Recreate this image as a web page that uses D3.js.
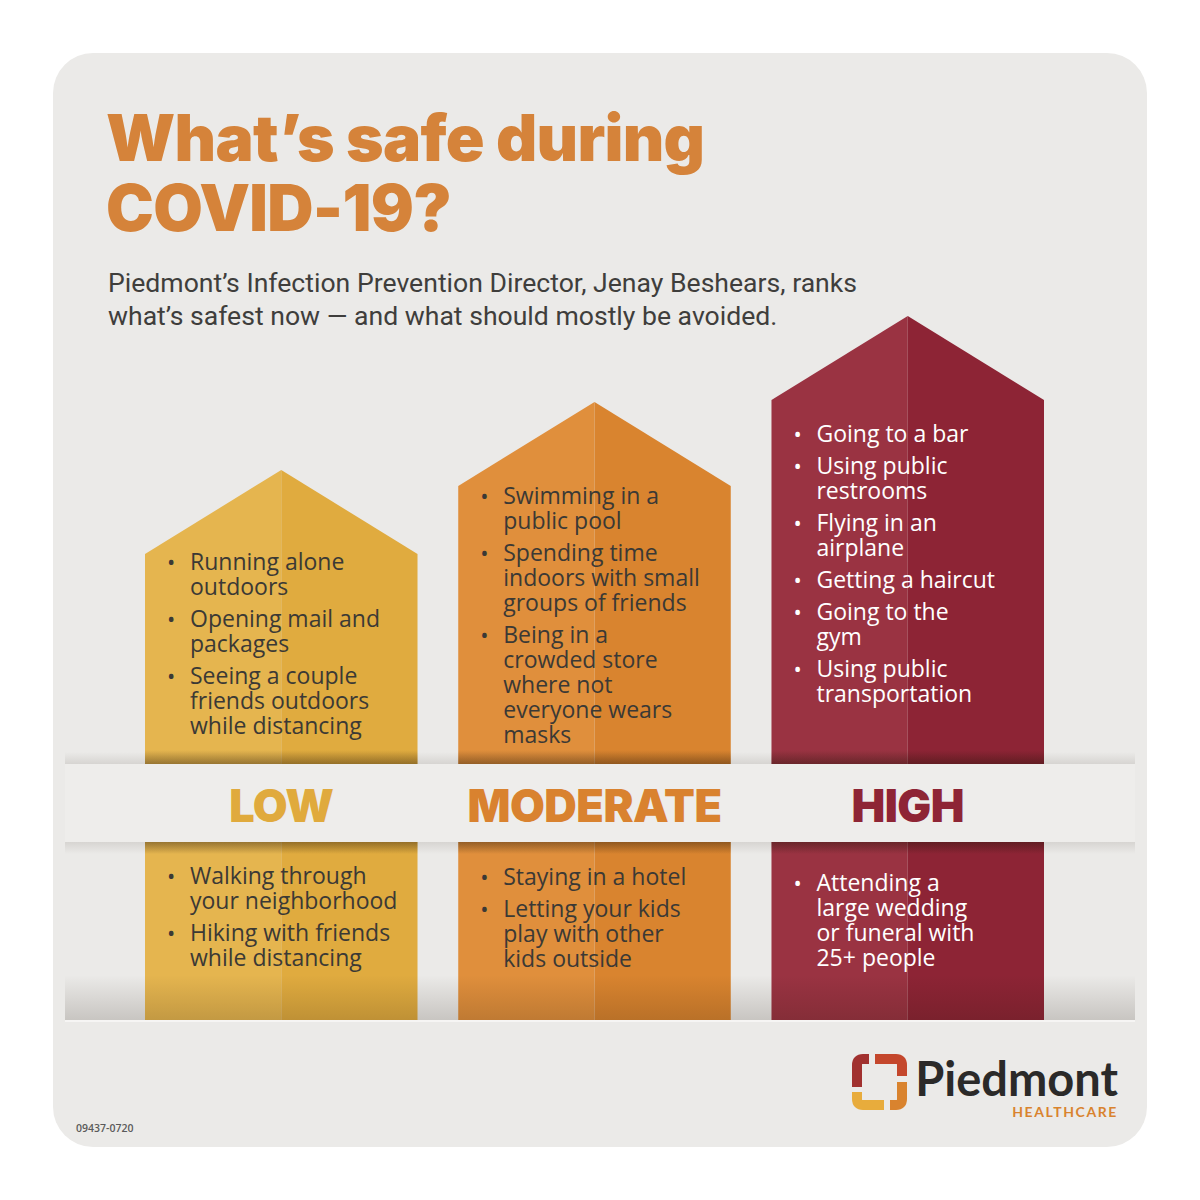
<!DOCTYPE html>
<html>
<head>
<meta charset="utf-8">
<script src="https://cdn.jsdelivr.net/npm/d3@7"></script>
<style>
  body { margin: 0; background: #ffffff; }
  #chart { width: 1200px; height: 1200px; }
</style>
</head>
<body>
<div id="chart"></div>
<script>
/* * * * * * * * * * * * * *
 *   What's safe - houses   *
 * * * * * * * * * * * * * */

// ---- data ----
const levels = ["LOW", "MODERATE", "HIGH"];

const titleLines = ["What\u2019s safe during", "COVID-19?"];
const subtitleLines = [
    "Piedmont\u2019s Infection Prevention Director, Jenay Beshears, ranks",
    "what\u2019s safest now \u2014 and what should mostly be avoided."
];

// activities above the band (one list of items per level, each item = its lines)
const topActivities = [
    [["Running alone", "outdoors"], ["Opening mail and", "packages"], ["Seeing a couple", "friends outdoors", "while distancing"]],
    [["Swimming in a", "public pool"], ["Spending time", "indoors with small", "groups of friends"], ["Being in a", "crowded store", "where not", "everyone wears", "masks"]],
    [["Going to a bar"], ["Using public", "restrooms"], ["Flying in an", "airplane"], ["Getting a haircut"], ["Going to the", "gym"], ["Using public", "transportation"]]
];

// activities below the band
const bottomActivities = [
    [["Walking through", "your neighborhood"], ["Hiking with friends", "while distancing"]],
    [["Staying in a hotel"], ["Letting your kids", "play with other", "kids outside"]],
    [["Attending a", "large wedding", "or funeral with", "25+ people"]]
];

const footCode = "09437-0720";

// ---- style / layout ----
const leftColors = ["#e5b54f", "#e08f3c", "#9a3342"];
const rightColors = ["#e0ab3f", "#d9842f", "#8d2435"];
const labelColors = ["#e0aa3d", "#d9822f", "#8e2535"];
const textColors = ["#3b3935", "#3b3935", "#ffffff"];

let width = 1200, height = 1200;

let svg = d3.select("#chart").append("svg")
    .attr("width", width)
    .attr("height", height);

let defs = svg.append("defs");

function vGrad(id, a0, a1) {
    let g = defs.append("linearGradient")
        .attr("id", id)
        .attr("x1", 0).attr("y1", 0).attr("x2", 0).attr("y2", 1);
    g.append("stop").attr("offset", "0%").attr("stop-color", "#1e1206").attr("stop-opacity", a0);
    g.append("stop").attr("offset", "100%").attr("stop-color", "#1e1206").attr("stop-opacity", a1);
}
vGrad("baseGrad", 0, 0.17);
vGrad("shadeAbove", 0, 0.32);
vGrad("shadeBelow", 0.32, 0);
vGrad("softAbove", 0, 0.10);
vGrad("softBelow", 0.10, 0);

// card
svg.append("rect")
    .attr("x", 53).attr("y", 53)
    .attr("width", 1094).attr("height", 1094)
    .attr("rx", 40)
    .attr("fill", "#ebeae8");

// title
svg.append("g").selectAll("text")
    .data(titleLines)
    .enter()
    .append("text")
    .attr("x", 106)
    .attr("y", (d, i) => 161 + i * 70)
    .style("font-family", "Inter")
    .style("font-weight", 900)
    .style("font-size", "64px")
    .style("letter-spacing", "-0.7px")
    .style("fill", "#d5833a")
    .text(d => d);

svg.append("g").selectAll("text")
    .data(subtitleLines)
    .enter()
    .append("text")
    .attr("x", 108)
    .attr("y", (d, i) => 292 + i * 33)
    .style("font-family", "Roboto")
    .style("font-size", "26.6px")
    .style("fill", "#3f3e3c")
    .text(d => d);

// scales
let x = d3.scaleBand()
    .domain(levels)
    .range([145, 1044])
    .paddingInner(0.13);

let peakY = d3.scaleOrdinal()
    .domain(levels)
    .range([470, 402, 316]);

const roofDrop = 84;
const houseBottom = 1020;
const bandTop = 764, bandBottom = 842;

// thin light line under the base
svg.append("rect")
    .attr("x", 65).attr("y", houseBottom)
    .attr("width", 1070).attr("height", 2)
    .attr("fill", "#f6f5f4");

let houses = svg.append("g").selectAll("g.house")
    .data(levels)
    .enter()
    .append("g")
    .attr("class", "house");

// left half
houses.append("path")
    .attr("d", d => {
        let x0 = x(d), xm = x(d) + x.bandwidth() / 2, p = peakY(d);
        return `M${x0},${houseBottom} V${p + roofDrop} L${xm},${p} V${houseBottom} Z`;
    })
    .attr("fill", (d, i) => leftColors[i]);

// right half
houses.append("path")
    .attr("d", d => {
        let x1 = x(d) + x.bandwidth(), xm = x(d) + x.bandwidth() / 2, p = peakY(d);
        return `M${xm},${houseBottom} V${p} L${x1},${p + roofDrop} V${houseBottom} Z`;
    })
    .attr("fill", (d, i) => rightColors[i]);

// bottom shading
svg.append("rect")
    .attr("x", 65).attr("y", 975)
    .attr("width", 1070).attr("height", houseBottom - 975)
    .attr("fill", "url(#baseGrad)");

// band across + its shadows
svg.append("rect")
    .attr("x", 65).attr("y", bandTop - 12)
    .attr("width", 1070).attr("height", 12)
    .attr("fill", "url(#softAbove)");
svg.append("rect")
    .attr("x", 65).attr("y", bandBottom)
    .attr("width", 1070).attr("height", 12)
    .attr("fill", "url(#softBelow)");

houses.append("rect")
    .attr("x", d => x(d)).attr("y", bandTop - 14)
    .attr("width", x.bandwidth()).attr("height", 14)
    .attr("fill", "url(#shadeAbove)");
houses.append("rect")
    .attr("x", d => x(d)).attr("y", bandBottom)
    .attr("width", x.bandwidth()).attr("height", 12)
    .attr("fill", "url(#shadeBelow)");

svg.append("rect")
    .attr("x", 65).attr("y", bandTop)
    .attr("width", 1070).attr("height", bandBottom - bandTop)
    .attr("fill", "#eeedeb");

svg.append("g").selectAll("text")
    .data(levels)
    .enter()
    .append("text")
    .attr("x", d => x(d) + x.bandwidth() / 2)
    .attr("y", 822)
    .attr("text-anchor", "middle")
    .style("font-family", "Inter")
    .style("font-weight", 900)
    .style("font-size", "45px")
    .style("letter-spacing", "-0.5px")
    .style("fill", (d, i) => labelColors[i])
    .text(d => d);

// bullet lists
const lineHeight = 25, itemGap = 7;
const topStart = [570, 504, 442];
const bottomStart = [884, 885, 891];

function drawList(items, level, i, startY) {
    let y = startY;
    let tx = x(level) + 45;
    let g = svg.append("g")
        .style("font-family", "Open Sans")
        .style("font-size", "23px")
        .style("fill", textColors[i]);
    items.forEach(item => {
        let t = g.append("text").attr("y", y);
        t.append("tspan")
            .attr("x", tx - 23)
            .style("font-size", "22px")
            .text("\u2022");
        item.forEach((line, k) => {
            t.append("tspan")
                .attr("x", tx)
                .attr("y", y + k * lineHeight)
                .text(line);
        });
        y += item.length * lineHeight + itemGap;
    });
}

levels.forEach((level, i) => {
    drawList(topActivities[i], level, i, topStart[i]);
    drawList(bottomActivities[i], level, i, bottomStart[i]);
});

// logo
let logo = svg.append("g")
    .attr("fill", "none")
    .attr("stroke-width", 10);
logo.append("path").attr("d", "M857,1087 V1065 Q857,1059 863,1059 H869").attr("stroke", "#a1312f");
logo.append("path").attr("d", "M875,1059 H896 Q902,1059 902,1065 V1076").attr("stroke", "#c4472c");
logo.append("path").attr("d", "M857,1092 V1099 Q857,1105 863,1105 H884").attr("stroke", "#e8ac3c");
logo.append("path").attr("d", "M902,1082 V1099 Q902,1105 896,1105 H890").attr("stroke", "#d9832e");

svg.append("text")
    .attr("x", 1118).attr("y", 1096)
    .attr("text-anchor", "end")
    .style("font-family", "Lato")
    .style("font-weight", 700)
    .style("font-size", "47px")
    .style("fill", "#2b2a29")
    .text("Piedmont");

svg.append("text")
    .attr("x", 1118).attr("y", 1117)
    .attr("text-anchor", "end")
    .style("font-family", "Lato")
    .style("font-weight", 700)
    .style("font-size", "14px")
    .style("letter-spacing", "1.6px")
    .style("fill", "#d9832e")
    .text("HEALTHCARE");

svg.append("text")
    .attr("x", 76).attr("y", 1132)
    .style("font-family", "Open Sans")
    .style("font-weight", 600)
    .style("font-size", "10.5px")
    .style("fill", "#5a5a5a")
    .text(footCode);
</script>
</body>
</html>
